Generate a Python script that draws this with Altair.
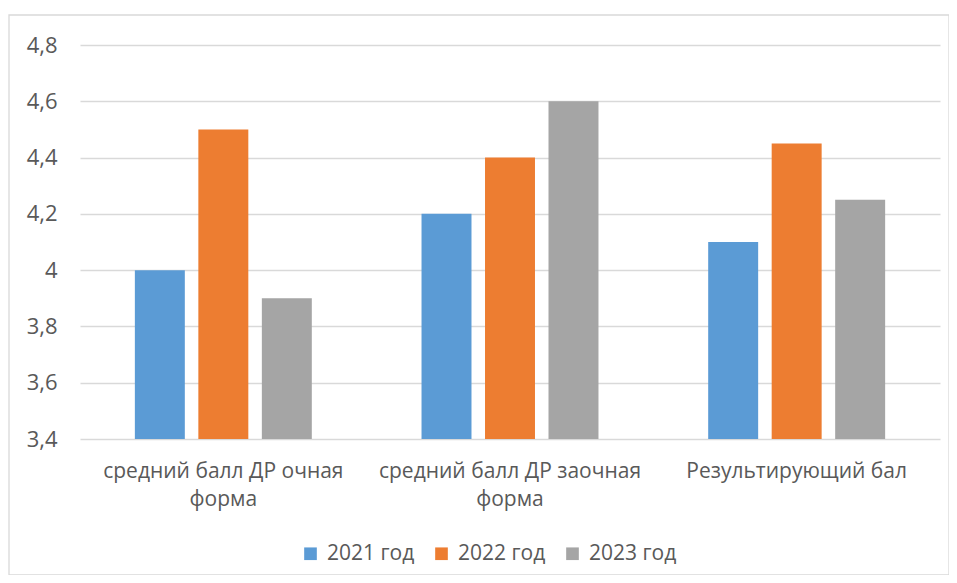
import altair as alt
import pandas as pd

categories = ["средний балл ДР очная форма", "средний балл ДР заочная форма", "Результирующий бал"]
series = ["2021 год", "2022 год", "2023 год"]
values_2021 = [4.0, 4.2, 4.1]
values_2022 = [4.5, 4.4, 4.45]
values_2023 = [3.9, 4.6, 4.25]
colors = ["#5B9BD5", "#ED7D31", "#A5A5A5"]

rows = []
for s, vals in zip(series, [values_2021, values_2022, values_2023]):
    for c, v in zip(categories, vals):
        rows.append({"category": c, "series": s, "value": v})
df = pd.DataFrame(rows)

FONT = "Open Sans"
TXT = "#595959"
FS = 21

bars = alt.Chart(df).mark_bar(clip=True).encode(
    x=alt.X("category:N", sort=categories, title=None,
            scale=alt.Scale(paddingInner=0, paddingOuter=0),
            axis=alt.Axis(labelAngle=0, domain=False, ticks=False, labelPadding=21,
                          labelFontSize=FS, labelColor=TXT, labelFont=FONT, labelLineHeight=28,
                          labelLimit=400,
                          labelExpr="split(replace(datum.label, ' форма', '|форма'), '|')")),
    xOffset=alt.XOffset("series:N", sort=series,
                        scale=alt.Scale(paddingInner=0.213, paddingOuter=0.864)),
    y=alt.Y("value:Q", title=None,
            scale=alt.Scale(domain=[3.4, 4.8], nice=False, zero=False),
            axis=alt.Axis(values=[3.4, 3.6, 3.8, 4.0, 4.2, 4.4, 4.6, 4.8], domain=False, ticks=False,
                          labelPadding=23, labelFontSize=22, labelColor=TXT, labelFont=FONT,
                          gridColor="#D9D9D9", gridWidth=1.3,
                          labelExpr="replace(format(datum.value, '.1~f'), '.', ',')")),
    color=alt.Color("series:N", sort=series, scale=alt.Scale(domain=series, range=colors),
                    legend=alt.Legend(title=None, orient="none", legendX=220, legendY=498,
                                      direction="horizontal", symbolType="square", symbolSize=160,
                                      symbolStrokeWidth=0, labelFontSize=FS, labelColor=TXT,
                                      labelFont=FONT, columnPadding=16, labelOffset=6)),
)

border = alt.Chart(pd.DataFrame({"a": [0]})).mark_rect(fill=None, stroke="#D9D9D9", strokeWidth=1.3).encode(
    x=alt.value(-71), x2=alt.value(869), y=alt.value(-30), y2=alt.value(530)
)

chart = alt.layer(border, bars).properties(
    width=860, height=394,
    autosize=alt.AutoSizeParams(type="none"),
    padding={"left": 72, "top": 37, "right": 9, "bottom": 136},
).configure(font=FONT).configure_view(stroke=None)

chart.save("out.html", embed_options={"renderer": "svg", "actions": False})
